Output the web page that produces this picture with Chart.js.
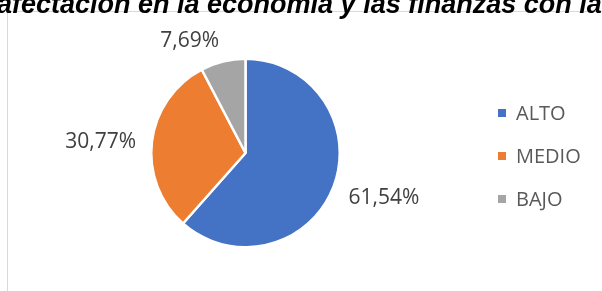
<!DOCTYPE html>
<html>
<head>
<meta charset="utf-8">
<script src="https://cdn.jsdelivr.net/npm/chart.js@4.4.0/dist/chart.umd.min.js"></script>
<style>
  html, body { margin: 0; padding: 0; background: #fff; }
  #wrap { position: relative; width: 602px; height: 291px; }
</style>
</head>
<body>
<div id="wrap"><canvas id="chart" width="602" height="291"></canvas></div>
<script>
// chart data
const categories = ['ALTO', 'MEDIO', 'BAJO'];
const percentValues = [61.54, 30.77, 7.69];
const sliceColors = ['#4472c4', '#ed7d31', '#a5a5a5'];
const titleText = 'afectación en la economía y las finanzas con la';

// frame, cut title, outside labels and legend
const decorPlugin = {
    id: 'decor',
    beforeDraw(chart) {
        const ctx = chart.ctx;
        ctx.save();
        ctx.fillStyle = '#fff';
        ctx.fillRect(0, 0, chart.width, chart.height);
        ctx.strokeStyle = '#d9d9d9';
        ctx.lineWidth = 1;
        ctx.beginPath();
        ctx.moveTo(7.5, chart.height);
        ctx.lineTo(7.5, 11.5);
        ctx.lineTo(chart.width, 11.5);
        ctx.stroke();
        ctx.restore();
    },
    afterDraw(chart) {
        const ctx = chart.ctx;
        ctx.save();

        // title (top part is cut off in the original)
        ctx.fillStyle = '#000';
        ctx.font = 'italic bold 27px "Liberation Sans", Arial, sans-serif';
        ctx.textAlign = 'left';
        ctx.textBaseline = 'alphabetic';
        ctx.fillText(titleText, -3, 13);

        // data labels outside the slices
        ctx.font = '21px "Open Sans", sans-serif';
        ctx.fillStyle = '#404040';
        ctx.textBaseline = 'middle';
        const arcs = chart.getDatasetMeta(0).data;
        arcs.forEach((arc, i) => {
            const mid = (arc.startAngle + arc.endAngle) / 2;
            const c = Math.cos(mid), s = Math.sin(mid);
            const r = arc.outerRadius + 16;
            const x = arc.x + c * r;
            const y = arc.y + s * r + s * 8 + 3;
            ctx.textAlign = c > 0 ? 'left' : 'right';
            const label = percentValues[i].toFixed(2).replace('.', ',') + '%';
            ctx.fillText(label, x, y);
        });

        // legend
        ctx.font = '20px "Open Sans", sans-serif';
        ctx.textAlign = 'left';
        ctx.textBaseline = 'middle';
        categories.forEach((name, i) => {
            const y = 113 + i * 43;
            ctx.fillStyle = sliceColors[i];
            ctx.fillRect(498, y - 4, 8, 8);
            ctx.fillStyle = '#595959';
            ctx.fillText(name, 516, y + 1);
        });
        ctx.restore();
    }
};

new Chart(document.getElementById('chart'), {
    type: 'pie',
    data: {
        labels: categories,
        datasets: [{
            data: percentValues,
            backgroundColor: sliceColors,
            borderColor: '#ffffff',
            borderWidth: 2.5
        }]
    },
    options: {
        responsive: false,
        animation: false,
        layout: {
            padding: { left: 150, right: 261, top: 57, bottom: 42 }
        },
        plugins: {
            legend: { display: false },
            tooltip: { enabled: false },
            title: { display: false }
        }
    },
    plugins: [decorPlugin]
});
</script>
</body>
</html>
